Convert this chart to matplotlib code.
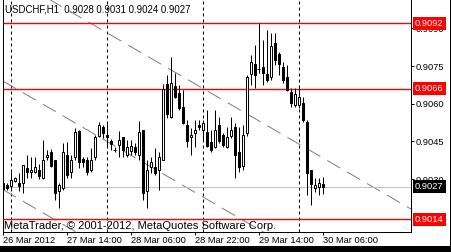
import matplotlib
matplotlib.use("Agg")
import matplotlib.pyplot as plt
from matplotlib.patches import Rectangle
import matplotlib.transforms as mtransforms

plt.rcParams['font.family'] = ['Liberation Sans', 'DejaVu Sans']

# ---------------- data (USDCHF H1, bars from 26 Mar 22:00) ----------------
opens = [0.90286, 0.90277, 0.90273, 0.90294, 0.90283, 0.90283, 0.90343, 0.90327, 0.90328, 0.90336,
         0.90303, 0.90387, 0.90409, 0.90376, 0.90254, 0.90263, 0.90395, 0.90327, 0.90387, 0.90493,
         0.90379, 0.90376, 0.90336, 0.90387, 0.90473, 0.90506, 0.90474, 0.90453, 0.90416, 0.90436,
         0.90468, 0.90396, 0.90413, 0.90427, 0.90396, 0.90495, 0.90254, 0.90347, 0.90347, 0.90336,
         0.90376, 0.90679, 0.90549, 0.90671, 0.90641, 0.90588, 0.90515, 0.90466, 0.90485, 0.90515,
         0.90496, 0.90489, 0.90449, 0.90429, 0.90515, 0.90476, 0.90429, 0.90472, 0.90509, 0.90409,
         0.90354, 0.90485, 0.90717, 0.90758, 0.90738, 0.90748, 0.90717, 0.90705, 0.90840, 0.90798,
         0.90745, 0.90708, 0.90648, 0.90595, 0.90595, 0.90604, 0.90529, 0.90336, 0.90263, 0.90270,
         0.90280]
highs = [0.90310, 0.90283, 0.90330, 0.90310, 0.90323, 0.90355, 0.90396, 0.90389, 0.90389, 0.90360,
         0.90456, 0.90416, 0.90419, 0.90376, 0.90283, 0.90445, 0.90449, 0.90396, 0.90502, 0.90495,
         0.90389, 0.90389, 0.90423, 0.90476, 0.90529, 0.90515, 0.90529, 0.90458, 0.90427, 0.90493,
         0.90469, 0.90456, 0.90456, 0.90442, 0.90533, 0.90495, 0.90376, 0.90389, 0.90423, 0.90409,
         0.90679, 0.90714, 0.90785, 0.90721, 0.90675, 0.90655, 0.90535, 0.90502, 0.90535, 0.90535,
         0.90535, 0.90575, 0.90496, 0.90575, 0.90549, 0.90482, 0.90509, 0.90549, 0.90522, 0.90509,
         0.90515, 0.90714, 0.90794, 0.90834, 0.90920, 0.90854, 0.90893, 0.90880, 0.90880, 0.90807,
         0.90767, 0.90754, 0.90661, 0.90661, 0.90668, 0.90628, 0.90535, 0.90336, 0.90303, 0.90303,
         0.90310]
lows = [0.90224, 0.90257, 0.90254, 0.90290, 0.90253, 0.90243, 0.90303, 0.90303, 0.90323, 0.90301,
        0.90299, 0.90376, 0.90350, 0.90217, 0.90184, 0.90257, 0.90303, 0.90303, 0.90376, 0.90343,
        0.90350, 0.90316, 0.90330, 0.90376, 0.90466, 0.90462, 0.90429, 0.90416, 0.90409, 0.90389,
        0.90389, 0.90389, 0.90396, 0.90396, 0.90376, 0.90217, 0.90184, 0.90323, 0.90316, 0.90257,
        0.90376, 0.90542, 0.90542, 0.90621, 0.90575, 0.90520, 0.90429, 0.90396, 0.90429, 0.90496,
        0.90456, 0.90429, 0.90409, 0.90423, 0.90442, 0.90429, 0.90423, 0.90465, 0.90303, 0.90330,
        0.90336, 0.90472, 0.90675, 0.90661, 0.90721, 0.90675, 0.90688, 0.90694, 0.90754, 0.90714,
        0.90681, 0.90652, 0.90588, 0.90588, 0.90582, 0.90529, 0.90237, 0.90197, 0.90250, 0.90237,
        0.90240]
closes = [0.90259, 0.90263, 0.90297, 0.90305, 0.90273, 0.90355, 0.90330, 0.90336, 0.90347, 0.90314,
          0.90376, 0.90396, 0.90354, 0.90243, 0.90275, 0.90408, 0.90316, 0.90376, 0.90488, 0.90367,
          0.90368, 0.90328, 0.90376, 0.90466, 0.90514, 0.90485, 0.90466, 0.90438, 0.90416, 0.90456,
          0.90416, 0.90427, 0.90433, 0.90407, 0.90488, 0.90243, 0.90336, 0.90367, 0.90326, 0.90387,
          0.90657, 0.90558, 0.90684, 0.90625, 0.90582, 0.90525, 0.90452, 0.90476, 0.90496, 0.90506,
          0.90525, 0.90432, 0.90416, 0.90496, 0.90453, 0.90436, 0.90469, 0.90496, 0.90396, 0.90350,
          0.90476, 0.90708, 0.90767, 0.90714, 0.90738, 0.90721, 0.90694, 0.90830, 0.90774, 0.90758,
          0.90694, 0.90655, 0.90604, 0.90639, 0.90626, 0.90535, 0.90326, 0.90281, 0.90278, 0.90286,
          0.90270]

date_ticks = [0, 16, 32, 48, 64, 80]
date_labels = ['26 Mar 2012', '27 Mar 14:00', '28 Mar 06:00', '28 Mar 22:00', '29 Mar 14:00', '30 Mar 06:00']
day_separators = [2, 26, 50, 74]

price_ticks = [0.9030, 0.9045, 0.9060, 0.9075, 0.9090]
red_levels = [0.9092, 0.9066, 0.9014]
bid_price = 0.9027

# equidistant channel: middle line anchor points (bar, price) and half-width
channel_bars = [0, 102]
channel_mid = [0.90690, 0.89749]
channel_offset = 0.00432

title = 'USDCHF,H1  0.9028 0.9031 0.9024 0.9027'
copyright_text = 'MetaTrader, \u00a9 2001-2012, MetaQuotes Software Corp.'

RED = (1.0, 0.0, 0.0)

# ---------------- figure ----------------
W, H = 452, 252
PX = 0.72  # one pixel in points at 100 dpi
YMIN, YMAX = 0.900895, 0.910127
fig = plt.figure(figsize=(W / 100, H / 100), dpi=100, facecolor='white')
ax = fig.add_axes([3 / W, 20 / H, 408 / W, 232 / H])
ax.set_facecolor('white')
ax.set_xlim(0, 102)
ax.set_ylim(YMIN, YMAX)

ax.spines['top'].set_visible(False)
for s in ['left', 'right', 'bottom']:
    ax.spines[s].set_linewidth(PX)
    ax.spines[s].set_color('black')

# day separators
for b in day_separators:
    ax.axvline(b, color='black', lw=PX, ls=(0, (3, 3)), zorder=1.5)

# channel lines
for k in (-1, 0, 1):
    ys = [m + k * channel_offset for m in channel_mid]
    ax.plot(channel_bars, ys, color='#808080', lw=PX, ls=(0, (15, 8)), zorder=2)

# horizontal levels
ax.hlines(red_levels, 0, 102, colors=[RED] * len(red_levels), linewidths=1.0, zorder=2.6)
ax.hlines([bid_price], 0, 102, colors=['#C0C0C0'], linewidths=PX, zorder=2.1)

# candles
bw = 0.5
for i, (o, h, l, c) in enumerate(zip(opens, highs, lows, closes)):
    ax.vlines(i, l, h, color='black', lw=PX, zorder=3)
    if abs(c - o) < 0.000015:
        ax.hlines(o, i - 0.375, i + 0.375, color='black', lw=PX, zorder=4)
    else:
        fc = 'white' if c > o else 'black'
        ax.add_patch(Rectangle((i - bw / 2, min(o, c)), bw, abs(c - o),
                               facecolor=fc, edgecolor='black', lw=PX, zorder=4))

# axes ticks
ax.yaxis.tick_right()
ax.set_yticks(price_ticks)
ax.set_yticklabels(['%.4f' % p for p in price_ticks])
ax.tick_params(axis='y', length=3 * PX, width=PX, pad=2 * PX, labelsize=6.7, colors='black')
ax.set_xticks(date_ticks)
ax.set_xticklabels(date_labels, ha='left')
ax.tick_params(axis='x', length=3 * PX, width=PX, pad=1 * PX, labelsize=6.7, colors='black')

# price boxes on right axis (figure-level so they cover the tick labels)
trans = mtransforms.blended_transform_factory(fig.transFigure, ax.transData)
for lv, col in [(red_levels[0], RED), (red_levels[1], RED),
                (red_levels[2], RED), (bid_price, (0.0, 0.0, 0.0))]:
    fig.text(415 / W, lv, '%.4f' % lv, transform=trans, color='white', fontsize=6.7,
             va='center', ha='left', zorder=11,
             bbox=dict(boxstyle='square,pad=0.22', facecolor=col, edgecolor=col, linewidth=0))

# texts
fig.text(5 / W, (H - 12) / H, title, fontsize=6.9, color='black', va='baseline', ha='left')
fig.text(4 / W, (H - 229) / H, copyright_text, fontsize=8, color='black', va='baseline', ha='left', zorder=5)

# window border strips
fig.add_artist(Rectangle((450 / W, 0), 2 / W, 1, transform=fig.transFigure,
                         facecolor='black', edgecolor='none', zorder=20))
fig.add_artist(Rectangle((0, 0), 1, 6 / H, transform=fig.transFigure,
                         facecolor='black', edgecolor='none', zorder=20))

fig.savefig('out.png', dpi=100, facecolor='white')
